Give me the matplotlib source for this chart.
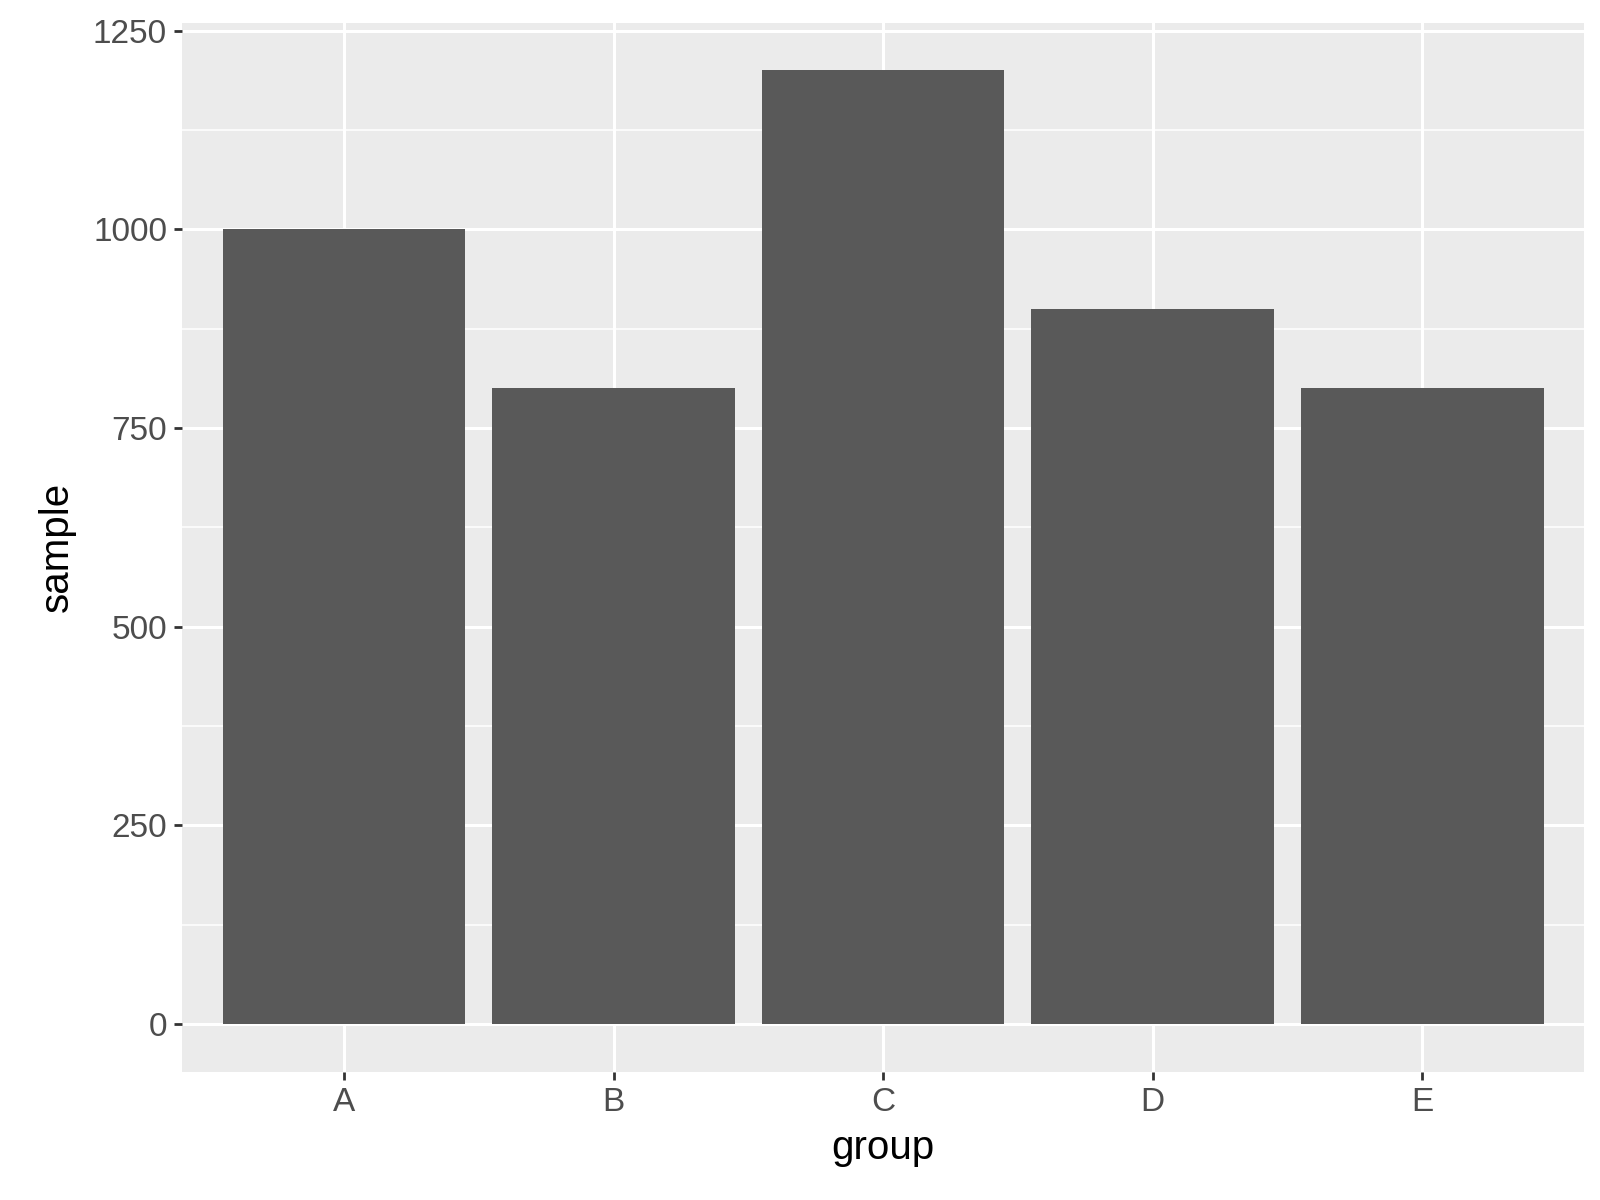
import matplotlib
matplotlib.use("Agg")
import matplotlib.pyplot as plt

groups = ["A", "B", "C", "D", "E"]
samples = [1000, 800, 1200, 900, 800]

plt.rcParams['font.family'] = ['Liberation Sans', 'DejaVu Sans']
fig = plt.figure(figsize=(16, 12), dpi=100)
ax = fig.add_axes([0.114, 0.107, 0.876, 0.874])
ax.set_facecolor('#EBEBEB')
x = list(range(1, len(groups) + 1))
ax.bar(x, samples, width=0.9, color='#595959', zorder=3)
ax.set_xlim(0.4, 5.6)
ax.set_ylim(-60, 1260)
ax.set_xticks(x)
ax.set_xticklabels(groups)
ax.set_yticks([0, 250, 500, 750, 1000, 1250])
ax.set_yticks([125, 375, 625, 875, 1125], minor=True)
ax.grid(True, which='major', color='white', linewidth=2.2, zorder=1)
ax.grid(True, which='minor', axis='y', color='white', linewidth=1.1, zorder=1)
for s in ax.spines.values():
    s.set_visible(False)
ax.tick_params(axis='both', which='major', length=6, width=2, color='#333333',
               labelsize=24, labelcolor='#4D4D4D', pad=5)
ax.tick_params(axis='both', which='minor', length=0)
ax.set_xlabel('group', fontsize=29, color='black', labelpad=8)
ax.set_ylabel('sample', fontsize=29, color='black', labelpad=12)
fig.savefig('out.png', dpi=100)
